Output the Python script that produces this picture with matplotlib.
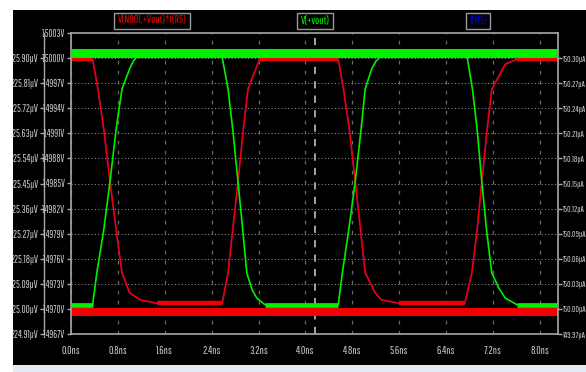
import matplotlib

matplotlib.use("Agg")
import matplotlib.pyplot as plt
import numpy as np
from matplotlib.patches import Rectangle

# V(+vout) on the inner left axis (volts)
vout_t = [0.0, 0.37, 0.44, 0.56, 0.665, 0.77, 0.87, 1.00, 1.06, 1.12, 1.40,
          2.58, 2.68, 2.76, 2.85, 2.93, 3.00, 3.09, 3.17, 3.31,
          4.56, 4.63, 4.74, 4.85, 4.95, 5.02, 5.13, 5.20, 5.27, 5.60,
          6.76, 6.85, 6.93, 7.01, 7.09, 7.18, 7.30, 7.41, 7.61, 8.31]
vout_v = [1.49705, 1.49705, 1.49743, 1.49795, 1.49852, 1.49915, 1.49963, 1.49987, 1.49996, 1.50001, 1.50001,
          1.50001, 1.49963, 1.49915, 1.49852, 1.49795, 1.49743, 1.49723, 1.49713, 1.49705,
          1.49705, 1.49743, 1.49795, 1.49852, 1.49915, 1.49963, 1.49987, 1.49996, 1.50001, 1.50001,
          1.50001, 1.49963, 1.49915, 1.49852, 1.49795, 1.49743, 1.49725, 1.49713, 1.49705, 1.49705]

# V(N001,+Vout)*I(R5) on the outer left axis (microvolts)
pwr_t = [0.0, 0.37, 0.46, 0.56, 0.665, 0.77, 0.87, 1.00, 1.18, 1.47,
         2.58, 2.68, 2.76, 2.85, 2.94, 3.02, 3.17, 3.22, 3.50,
         4.56, 4.65, 4.75, 4.85, 4.94, 5.02, 5.19, 5.30, 5.60,
         6.72, 6.84, 6.93, 7.01, 7.10, 7.18, 7.41, 7.61, 8.31]
pwr_uv = [225.896, 225.896, 225.788, 225.644, 225.457, 225.284, 225.130, 225.058, 225.032, 225.020,
          225.020, 225.130, 225.284, 225.457, 225.644, 225.788, 225.870, 225.896, 225.896,
          225.896, 225.788, 225.644, 225.457, 225.284, 225.130, 225.058, 225.032, 225.020,
          225.020, 225.130, 225.284, 225.457, 225.644, 225.788, 225.878, 225.896, 225.896]

# I(M5) on the right axis (microamps), mostly hidden under the red trace
im5_ua = [150.299, 150.299, 150.263, 150.215, 150.152, 150.095, 150.043, 150.019, 150.011, 150.007,
          150.007, 150.043, 150.095, 150.152, 150.215, 150.263, 150.290, 150.299, 150.299,
          150.299, 150.263, 150.215, 150.152, 150.095, 150.043, 150.019, 150.011, 150.007,
          150.007, 150.043, 150.095, 150.152, 150.215, 150.263, 150.293, 150.299, 150.299]

# constant thick bands at top (green) and bottom (red)
band_t = [0.0, 8.31]
vout_band = [1.500066, 1.500066]
pwr_band = [224.989, 224.989]

cursor_ns = 4.16

x_ticks = [0.0, 0.8, 1.6, 2.4, 3.2, 4.0, 4.8, 5.6, 6.4, 7.2, 8.0]
x_labels = ["0.0ns", "0.8ns", "1.6ns", "2.4ns", "3.2ns", "4.0ns", "4.8ns", "5.6ns", "6.4ns", "7.2ns", "8.0ns"]
v_ticks = [1.4967, 1.4970, 1.4973, 1.4976, 1.4979, 1.4982, 1.4985, 1.4988, 1.4991, 1.4994, 1.4997, 1.5000, 1.5003]
v_labels = ["1.4967V", "1.4970V", "1.4973V", "1.4976V", "1.4979V", "1.4982V", "1.4985V",
            "1.4988V", "1.4991V", "1.4994V", "1.4997V", "1.5000V", "1.5003V"]
uv_ticks = [224.91, 225.00, 225.09, 225.18, 225.27, 225.36, 225.45, 225.54, 225.63, 225.72, 225.81, 225.90]
uv_labels = ["224.91µV", "225.00µV", "225.09µV", "225.18µV", "225.27µV", "225.36µV",
             "225.45µV", "225.54µV", "225.63µV", "225.72µV", "225.81µV", "225.90µV"]
ua_ticks = [149.97, 150.00, 150.03, 150.06, 150.09, 150.12, 150.15, 150.18, 150.21, 150.24, 150.27, 150.30]
ua_labels = ["149.97µA", "150.00µA", "150.03µA", "150.06µA", "150.09µA", "150.12µA",
             "150.15µA", "150.18µA", "150.21µA", "150.24µA", "150.27µA", "150.30µA"]

plt.rcParams["font.family"] = ["Saira Extra Condensed", "Pathway Gothic One", "Barlow Condensed", "DejaVu Sans"]

GREY = "#a8a8a8"
TXT = "#cccccc"
GREEN = "#00f000"
RED = "#f00000"
BLUE = "#0000e0"

W, H = 586, 372
fig = plt.figure(figsize=(W / 100, H / 100), dpi=100, facecolor="white")
fig.patches.append(Rectangle((13 / W, 1 - 365 / H), 1, 355 / H, transform=fig.transFigure,
                             facecolor="black", edgecolor="none", zorder=-10))
fig.patches.append(Rectangle((0, 0), 1, 7 / H, transform=fig.transFigure,
                             facecolor="#e3ebf4", edgecolor="none", zorder=-10))

ax = fig.add_axes([71 / W, 1 - 334 / H, (558 - 71) / W, 301 / H])
ax.set_xlim(0.0, 8.31)
ax.set_ylim(1.4967, 1.5003)

ax_uv = ax.twinx()
ax_uv.set_ylim(224.91, 225.99)
ax_r = ax.twinx()
ax_r.set_ylim(149.97, 150.33)

# grid (on the bottom axes so it sits under every trace)
for y in ua_ticks:
    ax_r.axhline(y, color="#8a8a8a", lw=0.8, ls=(0, (1, 2)), zorder=1)
for x in x_ticks:
    ax_r.axvline(x, color="#6a6a6a", lw=0.9, ls=(0, (3, 5)), zorder=1)
ax_r.axvline(cursor_ns, color="#b0b0b0", lw=1.3, ls=(0, (4, 4)), zorder=1)

# traces
vout_t_a = np.array(vout_t)
vout_v_a = np.array(vout_v)
pwr_t_a = np.array(pwr_t)
pwr_a = np.array(pwr_uv)

ax_r.plot(pwr_t_a, im5_ua, color=BLUE, lw=1.0, zorder=2)
ax_uv.plot(pwr_t_a, pwr_a, color=RED, lw=1.2, zorder=3)
flat_pwr = np.ma.masked_where((pwr_a < pwr_a.max() - 1e-6) & (pwr_a > pwr_a.min() + 1e-6), pwr_a)
ax_uv.plot(pwr_t_a, flat_pwr, color=RED, lw=3.2, zorder=3, solid_capstyle="butt")
ax_uv.plot(band_t, pwr_band, color=RED, lw=5.8, zorder=4, solid_capstyle="butt")

ax.plot(vout_t_a, vout_v_a, color=GREEN, lw=1.2, zorder=3)
flat_v = np.ma.masked_where(vout_v_a > vout_v_a.min() + 1e-7, vout_v_a)
ax.plot(vout_t_a, flat_v, color=GREEN, lw=3.4, zorder=3, solid_capstyle="butt")
ax.plot(band_t, vout_band, color=GREEN, lw=6.5, zorder=4, solid_capstyle="butt")

ax.set_zorder(3)
ax.patch.set_visible(False)
ax_uv.set_zorder(2)
ax_uv.patch.set_visible(False)
ax_r.set_zorder(1)
ax_r.patch.set_visible(True)
ax_r.patch.set_facecolor("black")

# ticks and spines
ax.set_xticks(x_ticks, x_labels)
ax.tick_params(axis="x", length=0, pad=9, labelsize=7.8, labelcolor=TXT)
ax.set_yticks(v_ticks, v_labels)
ax.tick_params(axis="y", direction="out", length=3, width=1, color=GREY, pad=1,
               labelsize=6.9, labelcolor=TXT)
for s in ax.spines.values():
    s.set_color(GREY)
    s.set_linewidth(1.2)

ax_uv.yaxis.tick_left()
ax_uv.set_yticks(uv_ticks, uv_labels)
ax_uv.tick_params(axis="y", direction="out", length=3, width=1, color=GREY, pad=1,
                  labelsize=7.3, labelcolor=TXT)
for name, s in ax_uv.spines.items():
    s.set_visible(name == "left")
ax_uv.spines["left"].set_position(("outward", 19.4))
ax_uv.spines["left"].set_color(GREY)
ax_uv.spines["left"].set_linewidth(1.0)

ax_r.set_yticks(ua_ticks, ua_labels)
ax_r.tick_params(axis="y", direction="out", length=3, width=1, color=GREY, pad=0.5,
                 labelsize=6.1, labelcolor=TXT)
ax_r.tick_params(axis="x", bottom=False, labelbottom=False)
for s in ax_r.spines.values():
    s.set_visible(False)

# trace labels
box = dict(boxstyle="square,pad=0.3", facecolor="black", edgecolor="#9a9a9a", lw=1.0)
fig.text(152 / W, 1 - 21 / H, "V(N001,+Vout)*I(R5)", color=RED, fontsize=8, ha="center", va="center", bbox=box)
fig.text(315 / W, 1 - 21 / H, "V(+vout)", color=GREEN, fontsize=8, ha="center", va="center", bbox=box)
fig.text(478 / W, 1 - 21 / H, "I(M5)", color=BLUE, fontsize=8, ha="center", va="center", bbox=box)

# white margins around the black window
fig.patches.append(Rectangle((0, 0), 13 / W, 1, transform=fig.transFigure,
                             facecolor="white", edgecolor="none", zorder=20))
fig.patches.append(Rectangle((0, 1 - 10 / H), 1, 10 / H, transform=fig.transFigure,
                             facecolor="white", edgecolor="none", zorder=20))

fig.savefig("out.png", dpi=100, facecolor="white")
